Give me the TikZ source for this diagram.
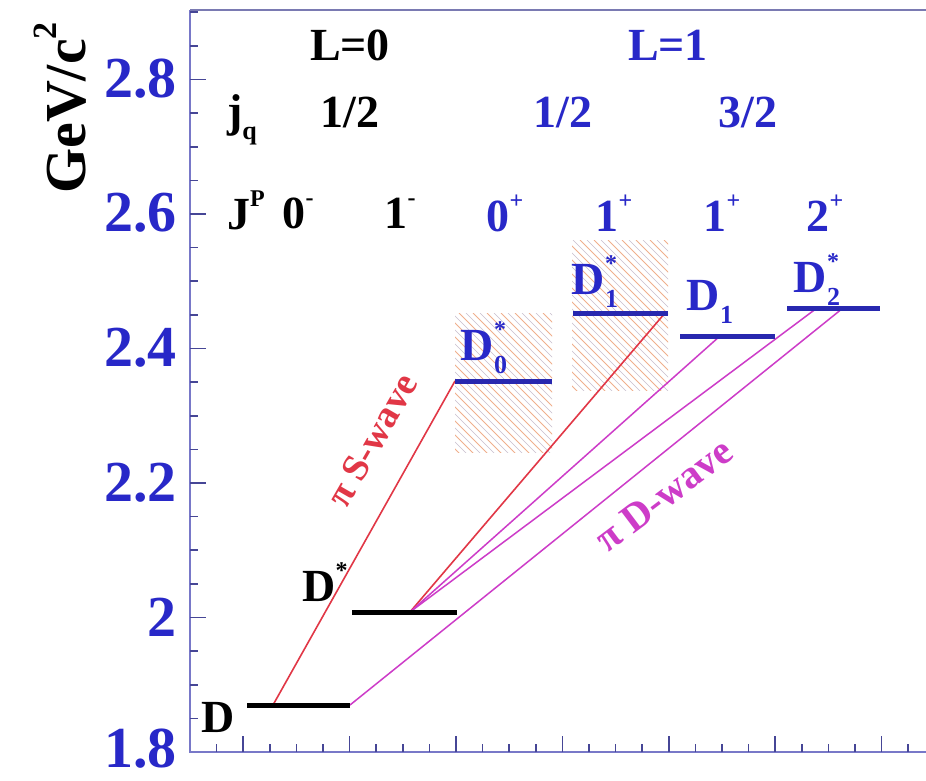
\documentclass[tikz,border=0pt]{standalone}
\usepackage{fontspec}
\setmainfont{Liberation Serif}
\definecolor{axisblue}{RGB}{120,120,200}
\definecolor{tickc}{RGB}{70,70,150}
\definecolor{lblue}{RGB}{40,40,200}
\definecolor{barblue}{RGB}{40,40,175}
\definecolor{swred}{RGB}{225,55,70}
\definecolor{dwmag}{RGB}{205,60,200}
\definecolor{hatchc}{RGB}{240,175,140}
\definecolor{hatchg}{RGB}{200,190,205}
\newcommand\supx[1]{\raisebox{0.5em}{\fontsize{24}{24}\selectfont #1}}
\newcommand\subx[1]{\raisebox{-0.28em}{\fontsize{26}{26}\selectfont #1}}
\newcommand\both[2]{\rlap{\supx{#1}}\subx{#2}}
\begin{document}
\begin{tikzpicture}[x=1pt,y=-1pt,
  lab/.style={font=\fontsize{46}{50}\selectfont\bfseries, inner sep=0pt},
  blab/.style={lab, text=lblue},
  ticklab/.style={font=\fontsize{58}{60}\selectfont\bfseries, text=lblue, anchor=east, inner sep=0pt},
  lvl/.style={line width=5pt},
  sw/.style={swred, line width=1.6pt},
  dw/.style={dwmag, line width=1.5pt},
  hatchline/.style={hatchc, line width=0.9pt},
  hatchline2/.style={hatchg, line width=0.7pt},
  axisline/.style={axisblue, line width=2pt},
  tickline/.style={tickc, line width=1.6pt}]
\useasboundingbox (0,0) rectangle (926,780);
\fill[white] (0,0) rectangle (926,780);

% hatched widths
\begin{scope}
  \clip (455,313) rectangle (552,452);
  \foreach \i in {-150,-136,...,110} \draw[hatchline] ({455+\i},313) -- ++(170,170);
  \foreach \i in {-143,-129,...,110} \draw[hatchline2] ({455+\i},313) -- ++(170,170);
\end{scope}
\begin{scope}
  \clip (572,240) rectangle (668,390);
  \foreach \i in {-160,-146,...,110} \draw[hatchline] ({572+\i},240) -- ++(170,170);
  \foreach \i in {-153,-139,...,110} \draw[hatchline2] ({572+\i},240) -- ++(170,170);
\end{scope}

% axes
\draw[axisline] (190,10) -- (190,752) -- (926,752);
\draw[axisblue!70!gray, line width=1.6pt] (190,10) -- (926,10);
\foreach \k in {1,...,25} \draw[tickline] (190,{752-33.625*\k}) -- ++(8,0);
\foreach \k in {4,8,...,20} \draw[tickline] (190,{752-33.625*\k}) -- ++(16,0);
\foreach \k in {1,...,27} \draw[tickline] ({190+26.6*\k},752) -- ++(0,-8);
\foreach \k in {2,6,...,26} \draw[tickline] ({190+26.6*\k},752) -- ++(0,-16);

% tick labels
\node[ticklab] (t28) at (177,79) {2.8};
\node[ticklab] (t26) at (177,213) {2.6};
\node[ticklab] (t24) at (177,348) {2.4};
\node[ticklab] (t22) at (177,483) {2.2};
\node[ticklab] (t20) at (177,617) {2};
\node[ticklab] (t18) at (177,749) {1.8};
\node[font=\fontsize{58}{60}\selectfont\bfseries, rotate=90, inner sep=0pt] (unit) at (60,108) {GeV/c\supx{\fontsize{34}{34}\selectfont 2}};

% levels
\coordinate (Dl) at (247,705);  \coordinate (Dr) at (350,705);
\coordinate (Dsl) at (352,612); \coordinate (Dsr) at (457,612);
\coordinate (D0l) at (455,381); \coordinate (D0r) at (552,381);
\coordinate (D1sl) at (573,313); \coordinate (D1sr) at (668,313);
\coordinate (D1l) at (680,336); \coordinate (D1r) at (775,336);
\coordinate (D2l) at (787,308); \coordinate (D2r) at (880,308);
% transition end points
\coordinate (tD) at (273,705);
\coordinate (tDs) at (410,612);
\coordinate (tD1s) at (665,313);
\coordinate (tD1) at (720,336);
\coordinate (tD2a) at (817,308);
\coordinate (tD2b) at (843,308);

\draw[sw] (tD) -- (D0l);
\draw[sw] (tDs) -- (tD1s);
\draw[dw] (tDs) -- (tD1);
\draw[dw] (tDs) -- (tD2a);
\draw[dw] (Dr) -- (tD2b);

\draw[lvl, black] (Dl) -- (Dr);
\draw[lvl, black] (Dsl) -- (Dsr);
\draw[lvl, barblue] (D0l) -- (D0r);
\draw[lvl, barblue] (D1sl) -- (D1sr);
\draw[lvl, barblue] (D1l) -- (D1r);
\draw[lvl, barblue] (D2l) -- (D2r);

% level labels
\node[lab] (lD) at (218,717) {D};
\node[lab] (lDs) at (325,582) {D\supx{*}};
\node[blab] (lD0) at (484,348) {D\both{*}{0}};
\node[blab] (lD1s) at (595,282) {D\both{*}{1}};
\node[blab] (lD1) at (710,302) {D\subx{1}};
\node[blab] (lD2) at (817,280) {D\both{*}{2}};

% quantum numbers
\node[lab] (L0) at (350,45) {L=0};
\node[blab] (L1) at (668,45) {L=1};
\node[lab] (jq) at (242,120) {j\subx{q}};
\node[lab] (j1) at (350,112) {1/2};
\node[blab] (j2) at (563,112) {1/2};
\node[blab] (j3) at (748,112) {3/2};
\node[lab] (JP) at (246,210) {J\supx{P}};
\node[lab] (p1) at (298,213) {0\supx{-}};
\node[lab] (p2) at (400,213) {1\supx{-}};
\node[blab] (p3) at (505,213) {0\supx{+}};
\node[blab] (p4) at (614,213) {1\supx{+}};
\node[blab] (p5) at (722,213) {1\supx{+}};
\node[blab] (p6) at (825,213) {2\supx{+}};

% wave labels
\node[font=\fontsize{38}{40}\selectfont\bfseries, text=swred, rotate=60, inner sep=0pt] (sl) at (372,440) {π S-wave};
\node[font=\fontsize{40}{42}\selectfont\bfseries, text=dwmag, rotate=37, inner sep=0pt] (dl) at (664,495) {π D-wave};
\end{tikzpicture}
\end{document}
